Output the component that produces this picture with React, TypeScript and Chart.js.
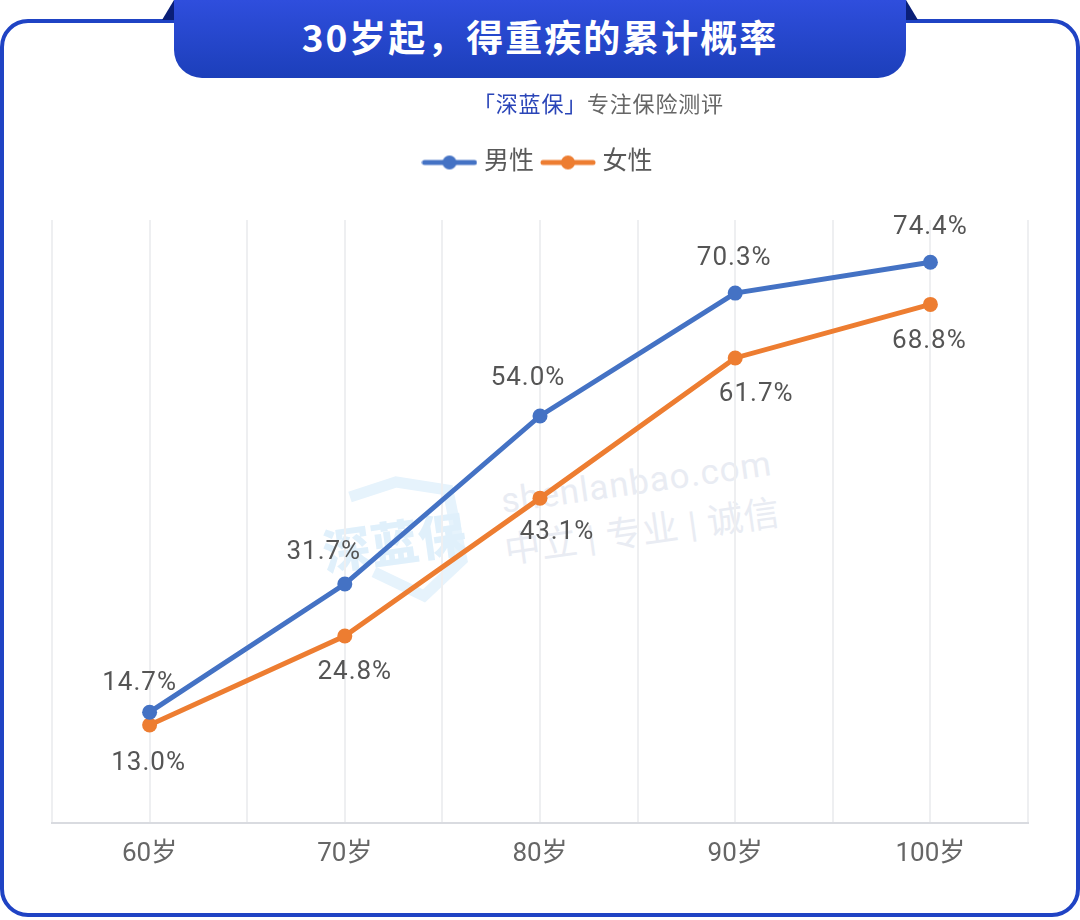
import React, { useEffect, useRef } from 'react';
import { Chart, registerables } from 'chart.js';

Chart.register(...registerables);

const categories = ['60岁', '70岁', '80岁', '90岁', '100岁'];
const maleValues = [14.7, 31.7, 54.0, 70.3, 74.4];
const femaleValues = [13.0, 24.8, 43.1, 61.7, 68.8];

// where each value label sits relative to its point
const maleLabelOffsets = [[-10, -29], [-21, -32], [-12, -37], [-1, -35], [0, -35]];
const femaleLabelOffsets = [[-1, 38], [10, 36], [17, 34], [21, 37], [-1, 37]];

const FONT = 'Roboto, "Noto Sans CJK SC", sans-serif';
const BLUE = '#4472c4';
const ORANGE = '#ed7d31';
const GRID = '#eeeff1';

const legendKey = (color: string) => {
  const c = document.createElement('canvas');
  c.width = 56;
  c.height = 18;
  const ctx = c.getContext('2d')!;
  ctx.strokeStyle = color;
  ctx.fillStyle = color;
  ctx.lineWidth = 5;
  ctx.lineCap = 'round';
  ctx.beginPath();
  ctx.moveTo(3, 9);
  ctx.lineTo(53, 9);
  ctx.stroke();
  ctx.beginPath();
  ctx.arc(28, 9, 7, 0, Math.PI * 2);
  ctx.fill();
  return c;
};

const valueLabels = {
  id: 'valueLabels',
  afterDatasetsDraw(chart: any) {
    const { ctx } = chart;
    const offsets = [maleLabelOffsets, femaleLabelOffsets];
    ctx.save();
    ctx.font = `26px ${FONT}`;
    ctx.letterSpacing = '1px';
    ctx.fillStyle = '#555555';
    ctx.textAlign = 'center';
    ctx.textBaseline = 'middle';
    chart.data.datasets.forEach((ds: any, i: number) => {
      chart.getDatasetMeta(i).data.forEach((pt: any, j: number) => {
        const [dx, dy] = offsets[i][j];
        ctx.fillText(`${ds.data[j].toFixed(1)}%`, pt.x + dx, pt.y + dy);
      });
    });
    ctx.restore();
  },
};

const abs = (s: React.CSSProperties): React.CSSProperties => ({ position: 'absolute', ...s });

const Watermark = () => (
  <div style={abs({ left: 0, top: 0, width: 1080, height: 920 })}>
    <svg width={1080} height={920} style={abs({ left: 0, top: 0 })}>
      <path
        d="M350 497 L396 482 L448 490 L462 560 L424 596 L374 572"
        fill="none"
        stroke="#e6f3fc"
        strokeWidth={11}
      />
    </svg>
    <div
      style={abs({
        left: 322,
        top: 505,
        fontFamily: FONT,
        fontWeight: 900,
        fontSize: 48,
        color: '#e0f0fb',
        transform: 'rotate(-8deg)',
        whiteSpace: 'nowrap',
      })}
    >
      深蓝保
    </div>
    <div
      style={abs({
        left: 500,
        top: 462,
        fontFamily: FONT,
        fontSize: 35,
        letterSpacing: 1,
        color: '#e9ecf3',
        transform: 'rotate(-8deg)',
        whiteSpace: 'nowrap',
      })}
    >
      shenlanbao.com
    </div>
    <div
      style={abs({
        left: 503,
        top: 502,
        fontFamily: FONT,
        fontSize: 36,
        letterSpacing: 0.7,
        color: '#e9ecf3',
        transform: 'rotate(-8deg)',
        whiteSpace: 'nowrap',
      })}
    >
      中立 | 专业 | 诚信
    </div>
  </div>
);

export default function App() {
  const canvasRef = useRef<HTMLCanvasElement>(null);

  useEffect(() => {
    document.body.style.margin = '0';
    const keys = [legendKey(BLUE), legendKey(ORANGE)];

    const chart = new Chart(canvasRef.current!, {
      type: 'line',
      data: {
        labels: categories,
        datasets: [
          {
            label: '男性',
            data: maleValues,
            borderColor: BLUE,
            backgroundColor: BLUE,
            borderWidth: 5,
            pointRadius: 7.5,
            pointBackgroundColor: BLUE,
            pointBorderWidth: 0,
            tension: 0,
          },
          {
            label: '女性',
            data: femaleValues,
            borderColor: ORANGE,
            backgroundColor: ORANGE,
            borderWidth: 5,
            pointRadius: 7.5,
            pointBackgroundColor: ORANGE,
            pointBorderWidth: 0,
            tension: 0,
          },
        ],
      },
      options: {
        animation: false,
        responsive: false,
        layout: { padding: { left: 52, right: 52, top: 138, bottom: 0 } },
        scales: {
          x: {
            offset: true,
            grid: { color: GRID, lineWidth: 2, drawTicks: false, offset: true },
            border: { color: '#d9dbe0', width: 2 },
            ticks: { color: '#666666', font: { family: FONT, size: 26 }, padding: 16 },
            afterFit: (s: any) => {
              s.height = 97;
            },
          },
          // second category axis, only for the grid lines on the categories
          xCentre: {
            type: 'category',
            position: 'top',
            offset: true,
            grid: { color: GRID, lineWidth: 2, drawTicks: false, offset: false },
            border: { display: false },
            ticks: { display: false },
            afterFit: (s: any) => {
              s.height = 35;
            },
          },
          y: { display: false, min: 0, max: 80 },
        },
        plugins: {
          title: { display: false },
          tooltip: { enabled: false },
          legend: {
            position: 'top',
            labels: {
              usePointStyle: true,
              pointStyleWidth: 44,
              padding: 12,
              color: '#595959',
              font: { family: FONT, size: 25 },
              generateLabels: (c: any) =>
                Chart.defaults.plugins.legend.labels.generateLabels(c).map((l: any, i: number) => ({
                  ...l,
                  pointStyle: keys[i],
                })),
            },
          },
        },
      },
      plugins: [valueLabels],
    } as any);

    return () => chart.destroy();
  }, []);

  return (
    <div style={{ position: 'relative', width: 1080, height: 920, overflow: 'hidden', background: '#fff' }}>
      <div
        style={abs({
          left: 0,
          top: 19,
          width: 1080,
          height: 898,
          boxSizing: 'border-box',
          border: '4px solid #1f43c4',
          borderRadius: 28,
        })}
      />
      <Watermark />
      <canvas ref={canvasRef} width={1080} height={920} style={abs({ left: 0, top: 0 })} />
      <div
        style={abs({
          left: 162,
          top: 0,
          width: 12,
          height: 20,
          background: '#0a1f78',
          clipPath: 'polygon(100% 0, 100% 100%, 0 100%)',
        })}
      />
      <div
        style={abs({
          left: 906,
          top: 0,
          width: 12,
          height: 20,
          background: '#0a1f78',
          clipPath: 'polygon(0 0, 100% 100%, 0 100%)',
        })}
      />
      <div
        style={abs({
          left: 174,
          top: 0,
          width: 732,
          height: 78,
          background: 'linear-gradient(#2f4edd, #1c3fba)',
          borderRadius: '0 0 28px 28px',
          color: '#fff',
          fontFamily: '"Noto Sans CJK SC", sans-serif',
          fontWeight: 700,
          fontSize: 37,
          letterSpacing: 2,
          lineHeight: '73px',
          textAlign: 'center',
        })}
      >
        30岁起，得重疾的累计概率
      </div>
      <div
        style={abs({
          left: 473,
          top: 87,
          fontFamily: '"Noto Sans CJK SC", sans-serif',
          fontSize: 22,
          letterSpacing: 0.8,
          lineHeight: '30px',
          color: '#666666',
          whiteSpace: 'nowrap',
        })}
      >
        <span style={{ color: '#2a45b8' }}>「深蓝保」</span>专注保险测评
      </div>
    </div>
  );
}
